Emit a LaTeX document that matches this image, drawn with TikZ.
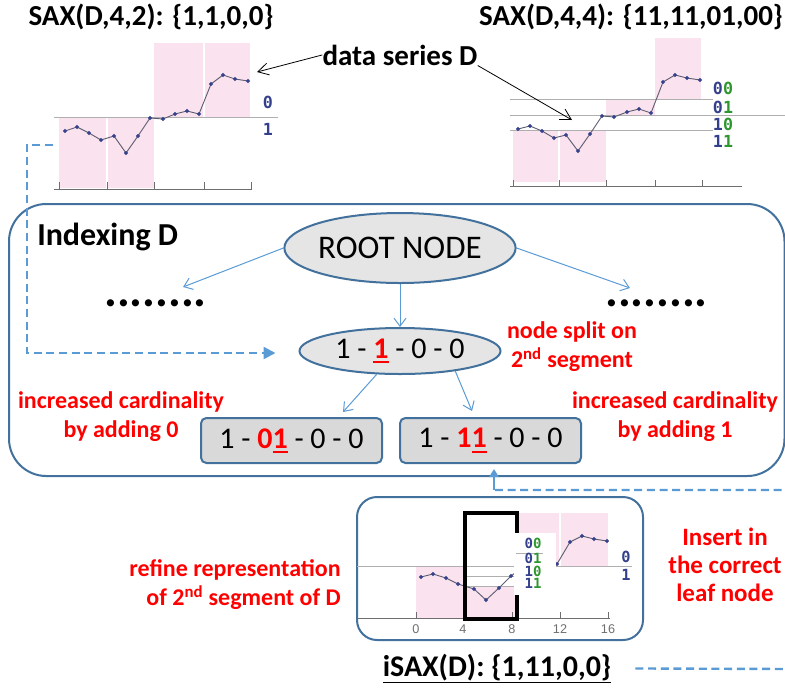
\documentclass[tikz,border=0pt]{standalone}
\usepackage{fontspec}
\setmainfont{Carlito}
\newfontfamily\codefont{DejaVu Sans Mono}
\newfontfamily\axisfont{Liberation Sans}
\usetikzlibrary{shapes.geometric, arrows.meta, calc}

\definecolor{nodeblue}{RGB}{65,113,156}
\definecolor{arrowblue}{RGB}{91,155,213}
\definecolor{nodegray}{RGB}{229,229,229}
\definecolor{boxgray}{RGB}{217,217,217}
\definecolor{saxpink}{RGB}{250,226,238}
\definecolor{labelblue}{RGB}{52,64,140}
\definecolor{labelgreen}{RGB}{46,150,46}
\definecolor{serieline}{RGB}{95,95,115}
\definecolor{breakgray}{RGB}{175,175,175}
\definecolor{axisgray}{RGB}{110,110,110}

% red bit with a thick underline
\newcommand{\ulbit}[1]{\setbox0\hbox{#1}\rlap{\rule[-3.5pt]{\wd0}{1.5pt}}#1}

\tikzset{
  title/.style={font=\bfseries\fontsize{21.75}{26}\selectfont, inner sep=0pt},
  redlbl/.style={text=red, font=\bfseries\fontsize{18}{21.75}\selectfont, align=center, inner sep=0pt},
  dotrow/.style={font=\bfseries\fontsize{36}{40}\selectfont, inner sep=0pt},
  saxnode/.style={ellipse, draw=nodeblue, line width=1.5pt, fill=nodegray, inner sep=0pt,
    minimum width=150.75pt, font=\fontsize{22.5}{26}\selectfont},
  leafbox/.style={rectangle, rounded corners=4pt, draw=nodeblue, line width=1.5pt, fill=boxgray,
    minimum width=135.75pt, minimum height=33.75pt, inner sep=0pt, font=\fontsize{22.5}{26}\selectfont},
  tree/.style={draw=arrowblue, line width=0.75pt, -{Straight Barb[length=6pt,width=9pt]}},
  pointer/.style={draw=black, line width=0.6pt, -{Straight Barb[length=8pt,width=9pt]}},
  dashlink/.style={draw=arrowblue, line width=1.8pt, dash pattern=on 6pt off 3.5pt},
  bitlbl/.style={font=\codefont\bfseries\fontsize{12.5}{14}\selectfont, inner sep=0pt},
  breakline/.style={draw=breakgray, line width=0.75pt},
  axisline/.style={draw=axisgray, line width=0.75pt},
  series/.style={draw=serieline, line width=0.7pt, mark=*, mark size=1.1pt,
    mark options={fill=labelblue, draw=labelblue}},
}

\begin{document}
\begin{tikzpicture}[x=0.75pt,y=-0.75pt]
\useasboundingbox (0,0) rectangle (785,690);

% titles
\node[title, anchor=base] (saxtwo) at (151,25) {SAX(D,4,2): \{1,1,0,0\}};
\node[title, anchor=base] (saxfour) at (631,25) {SAX(D,4,4): \{11,11,01,00\}};
\node[title, anchor=base] (series) at (400,65) {data series D};

% SAX(D,4,2)
\fill[saxpink] (59,117) rectangle (154,188);
\fill[saxpink] (154,43) rectangle (250,117);
\draw[white, line width=0.8pt] (107,117) -- (107,188);
\draw[white, line width=0.8pt] (204,43) -- (204,117);
\draw[breakline] (54,117) -- (278,117);
\draw[axisline] (54,189) -- (252,189);
\foreach \x in {59,107,154,204,251}
  \draw[axisline] (\x,189) -- (\x,182);
\draw[series] plot coordinates {(65,131) (77,127) (89,133) (101,140) (114,136) (126,153) (138,136) (150,118)
  (163,119) (175,114) (187,111) (199,114) (211,84) (223,75) (235,79) (248,81)};
\node[bitlbl, text=labelblue] (twozero) at (268,102) {0};
\node[bitlbl, text=labelblue] (twoone) at (268,129) {1};

% SAX(D,4,4)
\fill[saxpink] (513,130) rectangle (606,182);
\fill[saxpink] (606,99) rectangle (655,115);
\fill[saxpink] (655,38) rectangle (701,99);
\draw[white, line width=0.8pt] (559,130) -- (559,182);
\draw[breakline] (510,99) -- (713,99);
\draw[breakline] (510,115) -- (785,115);
\draw[breakline] (510,130) -- (713,130);
\draw[axisline] (510,186) -- (742,186);
\foreach \x in {513,559,606,655,702}
  \draw[axisline] (\x,186) -- (\x,180);
\draw[series] plot coordinates {(518,129) (530,126) (542,131) (554,138) (566,135) (578,151) (590,134) (602,116)
  (614,117) (627,112) (639,109) (651,113) (663,82) (675,75) (687,78) (700,80)};
\node[bitlbl] (fourA) at (723,88) {\textcolor{labelblue}{0}\textcolor{labelgreen}{0}};
\node[bitlbl] (fourB) at (723,107) {\textcolor{labelblue}{0}\textcolor{labelgreen}{1}};
\node[bitlbl] (fourC) at (723,124) {\textcolor{labelblue}{1}\textcolor{labelgreen}{0}};
\node[bitlbl] (fourD) at (723,141) {\textcolor{labelblue}{1}\textcolor{labelgreen}{1}};

\coordinate (twoseries) at (257,72);
\coordinate (fourseries) at (572,120);
\draw[pointer] (series.west) -- (twoseries);
\draw[pointer] (series.south east) -- (fourseries);

% index
\draw[nodeblue, line width=1.5pt, rounded corners=28pt] (9,204) rectangle (784.5,476);
\node[font=\bfseries\fontsize{24}{28}\selectfont, inner sep=0pt, anchor=base west] (indexing) at (37,245) {Indexing D};

\node[saxnode, minimum height=52.5pt, font=\fontsize{24.75}{28}\selectfont] (root) at (400,248) {ROOT NODE};
\node[dotrow, anchor=base] (ldots) at (155.5,306) {........};
\node[dotrow, anchor=base] (rdots) at (656.5,306) {........};
\node[saxnode, minimum height=34.5pt] (mid) at (400,351) {1 - \textcolor{red}{\bfseries\ulbit{1}} - 0 - 0};
\node[leafbox] (lbox) at (291.5,440.5) {1 - \textcolor{red}{\bfseries 0\ulbit{1}} - 0 - 0};
\node[leafbox] (rbox) at (490.5,440.5) {1 - \textcolor{red}{\bfseries 1\ulbit{1}} - 0 - 0};

\draw[tree] (root.west) -- ($(ldots.north east)+(-24,-12)$);
\draw[tree] (root.east) -- ($(rdots.north west)+(25,-11)$);
\draw[tree] (root.south) -- (mid.north);
\draw[tree] (mid.225) -- ($(lbox.north east)+(-40,-5)$);
\draw[tree] (mid.340) -- ($(rbox.north west)+(73,-6)$);

\node[redlbl] (split) at (572,347) {node split on\\2\textsuperscript{nd} segment};
\node[redlbl] (addzero) at (121,417) {increased cardinality\\by adding 0};
\node[redlbl] (addone) at (675,417) {increased cardinality\\by adding 1};

% iSAX(D)
\draw[nodeblue, line width=1.5pt, rounded corners=15pt] (357,497) rectangle (643,640);
\fill[saxpink] (416,566) rectangle (465,618);
\fill[saxpink] (465,587) rectangle (516,618);
\fill[saxpink] (516,513) rectangle (608,566);
\draw[white, line width=0.8pt] (560,513) -- (560,566);
\draw[breakline] (357,566) -- (632,566);
\draw[breakline] (465,576) -- (516,576);
\draw[breakline] (465,586) -- (516,586);
\draw[axisline] (357,618) -- (610,618);
\foreach \x in {416,463,512,560,608}
  \draw[axisline] (\x,618) -- (\x,612);
\draw[series] plot coordinates {(421,577) (433,574) (446,578) (458,584) (474,589) (486,600) (499,588) (511,576)
  (523,567) (535,564) (546,562) (557,564) (570,542) (582,536) (594,539) (607,541)};
\draw[black, line width=2.6pt] (465,513) rectangle (517,619);
\fill[white] (514,533) rectangle (556,595);
\draw[breakline] (516,553) -- (543,553);
\begin{scope}[every node/.style={bitlbl, font=\codefont\bfseries\fontsize{10.5}{12}\selectfont}]
\node (isaxA) at (533,543) {\textcolor{labelblue}{0}\textcolor{labelgreen}{0}};
\node (isaxB) at (533,558) {\textcolor{labelblue}{0}\textcolor{labelgreen}{1}};
\node (isaxC) at (533,571) {\textcolor{labelblue}{1}\textcolor{labelgreen}{0}};
\node (isaxD) at (533,583) {\textcolor{labelblue}{1}\textcolor{labelgreen}{1}};
\end{scope}
\node[bitlbl, text=labelblue, font=\codefont\bfseries\fontsize{11.5}{12}\selectfont] (isaxzero) at (626,557) {0};
\node[bitlbl, text=labelblue, font=\codefont\bfseries\fontsize{11.5}{12}\selectfont] (isaxone) at (626,575) {1};
\foreach \x/\t in {416/0,463/4,512/8,560/12,608/16}
  \node[font=\axisfont\fontsize{9.5}{11}\selectfont, text=axisgray, inner sep=0pt] at (\x,629) {\t};

\node[redlbl, align=right, anchor=east] (refine) at (341,585) {refine representation\\of 2\textsuperscript{nd} segment of D};
\node[redlbl, font=\bfseries\fontsize{18.75}{21}\selectfont] (insert) at (725,565) {Insert in\\the correct\\leaf node};
\node[title, anchor=base, font=\bfseries\fontsize{22.5}{26}\selectfont] (isax) at (497,676) {\underline{iSAX(D): \{1,11,0,0\}}};

% dashed links
\coordinate (twosax) at (53,145);
\draw[dashlink, -{Triangle[length=9pt,width=9pt]}] (twosax) -- (27,145) |- ($(mid.west)+(-23,2)$);
\coordinate (isaxend) at ($(isax.east)+(24,0)$);
\coordinate (upbase) at ($(rbox.south)+(3.5,26)$);
\draw[dashlink] (isaxend) -- (790,669) |- (upbase);
\draw[draw=arrowblue, line width=1.8pt, -{Triangle[length=6pt,width=7pt]}] (upbase) -- ++(0,-21);

\end{tikzpicture}
\end{document}
